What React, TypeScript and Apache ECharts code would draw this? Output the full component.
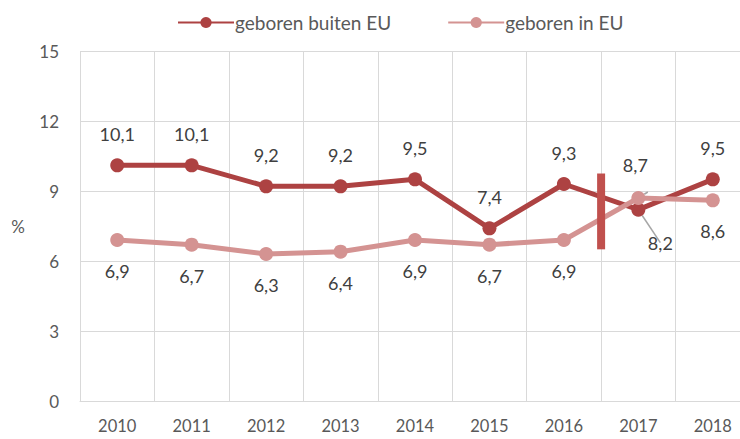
import React, { useEffect, useRef } from "react";
import * as echarts from "echarts";

const years = ["2010", "2011", "2012", "2013", "2014", "2015", "2016", "2017", "2018"];
const buitenEU = [10.1, 10.1, 9.2, 9.2, 9.5, 7.4, 9.3, 8.2, 9.5];
const inEU = [6.9, 6.7, 6.3, 6.4, 6.9, 6.7, 6.9, 8.7, 8.6];
// series break marker between 2016 and 2017 (boundary position 7 on 0..9 scale)
const breakMarker = [
  [7, 6.5],
  [7, 9.75],
];
const yTicks = { min: 0, max: 15, interval: 3 };

const DARK = "#ad4242";
const LIGHT = "#d49392";
const FONT = "Lato";

const fmt = (v: number) => String(v).replace(".", ",");

export default function App() {
  const ref = useRef<HTMLDivElement>(null);
  useEffect(() => {
    if (!ref.current) return;
    const chart = echarts.init(ref.current, undefined, { renderer: "svg" });
    const labelBase = {
      show: true,
      fontFamily: FONT,
      fontSize: 18,
      color: "#404040",
      distance: 15,
      formatter: (p: any) => fmt(Array.isArray(p.value) ? p.value[1] : p.value),
    };
    chart.setOption({
      animation: false,
      textStyle: { fontFamily: FONT },
      legend: {
        top: 8,
        left: 172,
        itemGap: 56,
        itemWidth: 56,
        itemHeight: 14,
        textStyle: { fontFamily: FONT, fontSize: 19, color: "#595959", padding: [0, 0, 0, -4] },
        data: ["geboren buiten EU", "geboren in EU"],
      },
      grid: { left: 80, top: 51, bottom: 38, width: 670, outerBoundsMode: "none", containLabel: false },
      xAxis: [
        {
          type: "category",
          data: years,
          boundaryGap: true,
          axisLine: { show: true, lineStyle: { color: "#d9d9d9", width: 1 } },
          axisTick: { show: false },
          splitLine: { show: true, lineStyle: { color: "#d9d9d9", width: 1 } },
          axisLabel: { fontFamily: FONT, fontSize: 16.5, color: "#595959", margin: 16, interval: 0 },
        },
        {
          type: "value",
          min: 0,
          max: 9,
          show: false,
        },
      ],
      yAxis: {
        type: "value",
        min: yTicks.min,
        max: yTicks.max,
        interval: yTicks.interval,
        name: "%",
        nameLocation: "middle",
        nameGap: 55,
        nameRotate: 0,
        nameTextStyle: { fontFamily: FONT, fontSize: 17, color: "#595959" },
        axisLine: { show: false },
        axisTick: { show: false },
        splitLine: { lineStyle: { color: "#d9d9d9", width: 1 } },
        axisLabel: { fontFamily: FONT, fontSize: 17, color: "#595959", margin: 21 },
      },
      series: [
        {
          name: "geboren buiten EU",
          type: "line",
          data: buitenEU.map((v, i) =>
            i === 7
              ? {
                  value: v,
                  label: { position: "bottom", distance: 17, offset: [22, 0] },
                  labelLine: { show: true, lineStyle: { color: "#a6a6a6", width: 1.5 } },
                }
              : v
          ),
          symbol: "circle",
          symbolSize: 14,
          itemStyle: { color: DARK },
          lineStyle: { color: DARK, width: 5 },
          label: { ...labelBase, position: "top" },
          z: 3,
        },
        {
          name: "geboren in EU",
          type: "line",
          data: inEU.map((v, i) =>
            i === 7
              ? {
                  value: v,
                  label: { position: "top", distance: 17, offset: [-3, 0] },
                  labelLine: { show: true, lineStyle: { color: "#a6a6a6", width: 1.5 } },
                }
              : v
          ),
          symbol: "circle",
          symbolSize: 14,
          itemStyle: { color: LIGHT },
          lineStyle: { color: LIGHT, width: 5 },
          label: { ...labelBase, position: "bottom" },
          z: 4,
        },
        {
          name: "break",
          type: "line",
          xAxisIndex: 1,
          data: breakMarker,
          symbol: "none",
          lineStyle: { color: "#c0504d", width: 8, cap: "butt" },
          silent: true,
          z: 5,
        },
      ],
    });
    return () => chart.dispose();
  }, []);
  return (
    <div
      ref={ref}
      style={{ position: "fixed", left: 0, top: 0, width: 740, height: 439, background: "#fff" }}
    />
  );
}
